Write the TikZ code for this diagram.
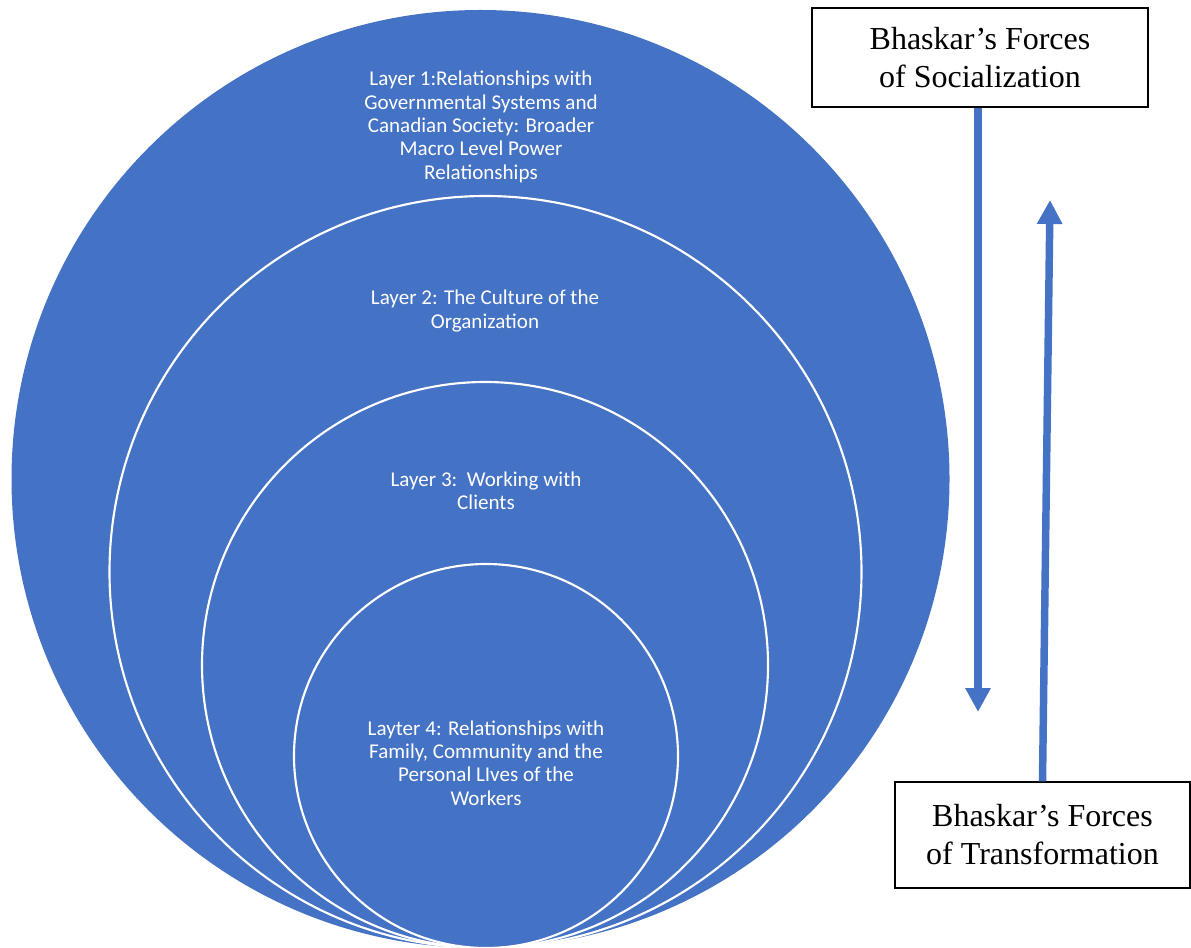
\documentclass[tikz,border=0pt]{standalone}
\usepackage{fontspec}
\setmainfont{Liberation Serif}
\newfontfamily\layerfont{Carlito}
\usetikzlibrary{arrows.meta}
\definecolor{layerblue}{HTML}{4472C4}
\begin{document}
\begin{tikzpicture}[x=0.75pt,y=-0.75pt,
  ring/.style={circle, fill=layerblue, inner sep=0pt, minimum size=#1*1.5pt},
  innerring/.style={ring=#1, draw=white, line width=1.6pt},
  layertext/.style={text=white, align=center, inner sep=0pt,
    font=\layerfont\fontsize{15.8}{17.5}\selectfont},
  forcebox/.style={draw=black, line width=0.9pt, fill=white, align=center,
    inner sep=0pt, font=\fontsize{24}{28.5}\selectfont},
  force/.style={draw=layerblue, line width=5.6pt,
    -{Triangle[length=18pt, width=18pt]}}
]
\useasboundingbox (0,0) rectangle (1191,948);
\clip (0,0) rectangle (1191,948);

% nested circles, all touching at the bottom
\node[ring=469]      (c1) at (480.5,479) {};
\node[innerring=376] (c2) at (485.5,572) {};
\node[innerring=283] (c3) at (485,665) {};
\node[innerring=192] (c4) at (486,756) {};

% layer labels
\node[layertext] (t1) at (481,127) {Layer 1:Relationships with\\Governmental Systems and\\Canadian Society: Broader\\Macro Level Power\\Relationships};
\node[layertext] (t2) at (485,311) {Layer 2: The Culture of the\\Organization};
\node[layertext] (t3) at (486,491) {Layer 3:\ \ Working with\\Clients};
\node[layertext] (t4) at (486,763) {Layter 4: Relationships with\\Family, Community and the\\Personal LIves of the\\Workers};

% forces boxes
\node[forcebox, minimum width=252pt, minimum height=74.25pt] (soc) at (980,57.5) {Bhaskar’s Forces\\of Socialization};
\node[forcebox, minimum width=221.25pt, minimum height=79.5pt] (trans) at (1042.5,835) {Bhaskar’s Forces\\of Transformation};

% arrows
\coordinate (dtip) at (978,712);
\coordinate (utip) at (1050,200);
\draw[force] (soc.south -| dtip) -- (dtip);
\draw[force] (trans.north) -- (utip);
\end{tikzpicture}
\end{document}
